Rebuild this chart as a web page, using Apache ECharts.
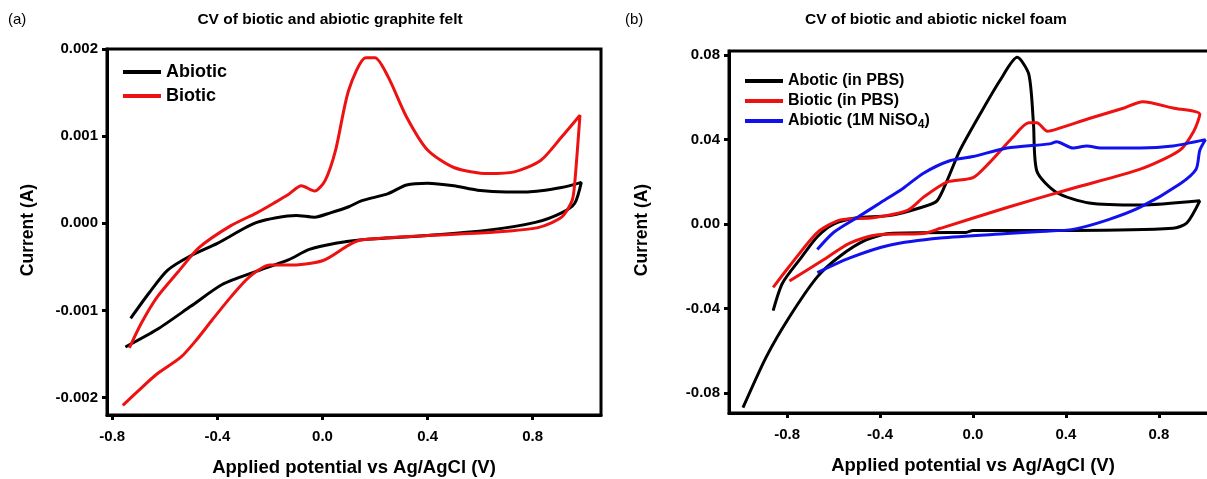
<!DOCTYPE html>
<html>
<head>
<meta charset="utf-8">
<script src="https://cdn.jsdelivr.net/npm/echarts@6/dist/echarts.min.js"></script>
<style>
html, body { margin: 0; background: #fff; }
#chart { width: 1207px; height: 479px; }
</style>
</head>
<body>
<div id="chart"></div>
<script>
// potential (V), current (A) pairs
var feltAbiotic = [
    [-0.73, -0.00109], [-0.66, -0.00080], [-0.59, -0.00054], [-0.50, -0.00037], [-0.40, -0.00023],
    [-0.25, 0.00001], [-0.10, 0.00009], [-0.03, 0.00007], [0.03, 0.00012], [0.10, 0.00019],
    [0.15, 0.00026], [0.25, 0.00034], [0.32, 0.00044], [0.40, 0.00046], [0.50, 0.00043],
    [0.59, 0.00038], [0.70, 0.00036], [0.78, 0.00036], [0.91, 0.00041], [0.985, 0.00047],
    [0.96, 0.00023], [0.91, 0.00012], [0.81, 0.00001], [0.63, -0.00008], [0.40, -0.00014],
    [0.15, -0.00019], [0.05, -0.00023], [-0.05, -0.00030], [-0.13, -0.00042], [-0.25, -0.00055],
    [-0.38, -0.00070], [-0.50, -0.00095], [-0.63, -0.00122], [-0.75, -0.00142]
];
var feltBiotic = [
    [-0.735, -0.00143], [-0.69, -0.00115], [-0.63, -0.00085], [-0.55, -0.00056], [-0.47, -0.00028],
    [-0.35, -0.00003], [-0.25, 0.00012], [-0.18, 0.00024], [-0.13, 0.00033], [-0.08, 0.00043],
    [-0.03, 0.00037], [0.01, 0.00049], [0.05, 0.00084], [0.10, 0.00153], [0.165, 0.0019],
    [0.20, 0.0019], [0.25, 0.00168], [0.32, 0.00122], [0.40, 0.00084], [0.50, 0.00064],
    [0.63, 0.00057], [0.73, 0.00059], [0.83, 0.00072], [0.91, 0.00099], [0.98, 0.00124],
    [0.96, 0.00046], [0.95, 0.00026], [0.91, 0.00007], [0.82, -0.00005], [0.66, -0.00010],
    [0.40, -0.00014], [0.15, -0.00019], [0.10, -0.00025], [0.0, -0.00043], [-0.13, -0.00048],
    [-0.20, -0.00048], [-0.28, -0.00062], [-0.35, -0.00085], [-0.42, -0.00111], [-0.48, -0.00134],
    [-0.54, -0.00154], [-0.63, -0.00173], [-0.70, -0.00192], [-0.76, -0.00209]
];
var foamAbotic = [
    [-0.86, -0.041], [-0.82, -0.028], [-0.74, -0.016], [-0.67, -0.006], [-0.60, 0.000],
    [-0.50, 0.003], [-0.36, 0.004], [-0.22, 0.008], [-0.155, 0.011], [-0.11, 0.021],
    [-0.056, 0.035], [0.03, 0.052], [0.116, 0.068], [0.19, 0.079], [0.24, 0.071],
    [0.26, 0.048], [0.275, 0.025], [0.36, 0.015], [0.50, 0.010], [0.72, 0.009],
    [0.976, 0.011], [0.92, 0.0005], [0.86, -0.002], [0.43, -0.003], [0.0, -0.003],
    [-0.03, -0.004], [-0.10, -0.004], [-0.36, -0.0045], [-0.46, -0.0075], [-0.57, -0.015],
    [-0.67, -0.025], [-0.79, -0.044], [-0.89, -0.063], [-0.99, -0.087]
];
var foamBiotic = [
    [-0.86, -0.030], [-0.79, -0.020], [-0.67, -0.004], [-0.57, 0.002], [-0.43, 0.003],
    [-0.28, 0.0066], [-0.21, 0.013], [-0.11, 0.020], [0.0, 0.022], [0.07, 0.029],
    [0.17, 0.041], [0.24, 0.048], [0.275, 0.048], [0.32, 0.044], [0.36, 0.045],
    [0.50, 0.050], [0.65, 0.055], [0.73, 0.058], [0.86, 0.055], [0.976, 0.052],
    [0.95, 0.044], [0.89, 0.035], [0.72, 0.026], [0.43, 0.017], [0.15, 0.008],
    [-0.14, -0.002], [-0.215, -0.0045], [-0.41, -0.005], [-0.53, -0.009], [-0.645, -0.017],
    [-0.79, -0.027]
];
var foamNiso4 = [
    [-0.67, -0.012], [-0.60, -0.004], [-0.50, 0.003], [-0.40, 0.010], [-0.30, 0.017],
    [-0.215, 0.024], [-0.10, 0.030], [0.0, 0.032], [0.146, 0.036], [0.33, 0.038],
    [0.36, 0.039], [0.43, 0.036], [0.49, 0.037], [0.55, 0.036], [0.72, 0.036],
    [0.86, 0.037], [1.0, 0.040], [0.976, 0.035], [0.96, 0.026], [0.89, 0.019],
    [0.72, 0.008], [0.58, 0.002], [0.43, -0.0025], [0.29, -0.0035], [0.146, -0.0045],
    [-0.14, -0.0066], [-0.36, -0.010], [-0.53, -0.016], [-0.67, -0.023]
];
var xTicks = [-0.8, -0.4, 0, 0.4, 0.8];
var feltYTicks = [-0.002, -0.001, 0, 0.001, 0.002];
var foamYTicks = [-0.08, -0.04, 0, 0.04, 0.08];

var font = 'Liberation Sans';
var myChart = echarts.init(document.getElementById('chart'));

function valueAxis(gridIndex, min, max, ticks, digits, name, nameGap, labelMargin) {
    return {
        type: 'value',
        gridIndex: gridIndex,
        min: min,
        max: max,
        name: name,
        nameLocation: 'middle',
        nameGap: nameGap,
        nameTextStyle: { color: '#000', fontFamily: font, fontWeight: 'bold', fontSize: 18.5 },
        axisLine: { show: true, onZero: false, lineStyle: { color: '#000', width: 3 } },
        axisTick: { show: true, inside: false, length: 5, customValues: ticks, lineStyle: { color: '#000', width: 3 } },
        axisLabel: {
            customValues: ticks,
            color: '#000',
            fontFamily: font,
            fontWeight: 'bold',
            fontSize: 15,
            margin: labelMargin,
            formatter: function (v) { return v.toFixed(digits); }
        },
        splitLine: { show: false }
    };
}

function cvLine(name, data, color, xi) {
    return {
        name: name,
        type: 'line',
        xAxisIndex: xi,
        yAxisIndex: xi,
        data: data,
        smooth: 0.25,
        showSymbol: false,
        symbol: 'none',
        lineStyle: { width: 3, color: color },
        itemStyle: { color: color }
    };
}

var option = {
    backgroundColor: '#fff',
    animation: false,
    grid: [
        { left: 107, top: 49, right: 606, bottom: 64, show: true, borderColor: '#000', borderWidth: 3,
          containLabel: false, outerBoundsMode: 'none' },
        { left: 729, top: 51, right: -10, bottom: 66, show: true, borderColor: '#000', borderWidth: 3,
          containLabel: false, outerBoundsMode: 'none' }
    ],
    xAxis: [
        valueAxis(0, -0.82, 1.06, xTicks, 1, 'Applied potential vs Ag/AgCl (V)', 43, 14),
        valueAxis(1, -1.05, 1.05, xTicks, 1, 'Applied potential vs Ag/AgCl (V)', 43, 14)
    ],
    yAxis: [
        valueAxis(0, -0.0022, 0.002, feltYTicks, 3, '', 0, 9),
        valueAxis(1, -0.0895, 0.082, foamYTicks, 2, '', 0, 9)
    ],
    legend: [
        {
            data: ['Abiotic', 'Biotic'],
            orient: 'vertical',
            left: 118, top: 58,
            icon: 'rect', itemWidth: 38, itemHeight: 4, itemGap: 6,
            textStyle: { color: '#000', fontFamily: font, fontWeight: 'bold', fontSize: 18 }
        },
        {
            data: ['Abotic (in PBS)', 'Biotic (in PBS)', 'Abiotic (1M NiSO4)'],
            orient: 'vertical',
            left: 740, top: 68,
            icon: 'rect', itemWidth: 38, itemHeight: 4, itemGap: 4,
            formatter: function (n) {
                return n === 'Abiotic (1M NiSO4)' ? 'Abiotic (1M NiSO{sub|4})' : n;
            },
            textStyle: {
                color: '#000', fontFamily: font, fontWeight: 'bold', fontSize: 16,
                rich: { sub: { fontFamily: font, fontWeight: 'bold', fontSize: 12, padding: [8, 0, 0, 0] } }
            }
        }
    ],
    graphic: [
        { type: 'text', x: 8, y: 20, style: { text: '(a)', fontFamily: font, fontSize: 15, fill: '#000', verticalAlign: 'middle' } },
        { type: 'text', x: 330, y: 20, style: { text: 'CV of biotic and abiotic graphite felt', fontFamily: font, fontWeight: 'bold', fontSize: 15.5, fill: '#000', align: 'center', verticalAlign: 'middle' } },
        { type: 'text', x: 625, y: 20, style: { text: '(b)', fontFamily: font, fontSize: 15, fill: '#000', verticalAlign: 'middle' } },
        { type: 'text', x: 936, y: 20, style: { text: 'CV of biotic and abiotic nickel foam', fontFamily: font, fontWeight: 'bold', fontSize: 15.5, fill: '#000', align: 'center', verticalAlign: 'middle' } },
        { type: 'text', x: 28, y: 230, rotation: Math.PI / 2, style: { text: 'Current (A)', fontFamily: font, fontWeight: 'bold', fontSize: 17.5, fill: '#000', align: 'center', verticalAlign: 'middle' } },
        { type: 'text', x: 642, y: 230, rotation: Math.PI / 2, style: { text: 'Current (A)', fontFamily: font, fontWeight: 'bold', fontSize: 17.5, fill: '#000', align: 'center', verticalAlign: 'middle' } }
    ],
    series: [
        cvLine('Abiotic', feltAbiotic, '#000000', 0),
        cvLine('Biotic', feltBiotic, '#ee1111', 0),
        cvLine('Abotic (in PBS)', foamAbotic, '#000000', 1),
        cvLine('Biotic (in PBS)', foamBiotic, '#ee1111', 1),
        cvLine('Abiotic (1M NiSO4)', foamNiso4, '#1111ee', 1)
    ]
};
myChart.setOption(option);
</script>
</body>
</html>
